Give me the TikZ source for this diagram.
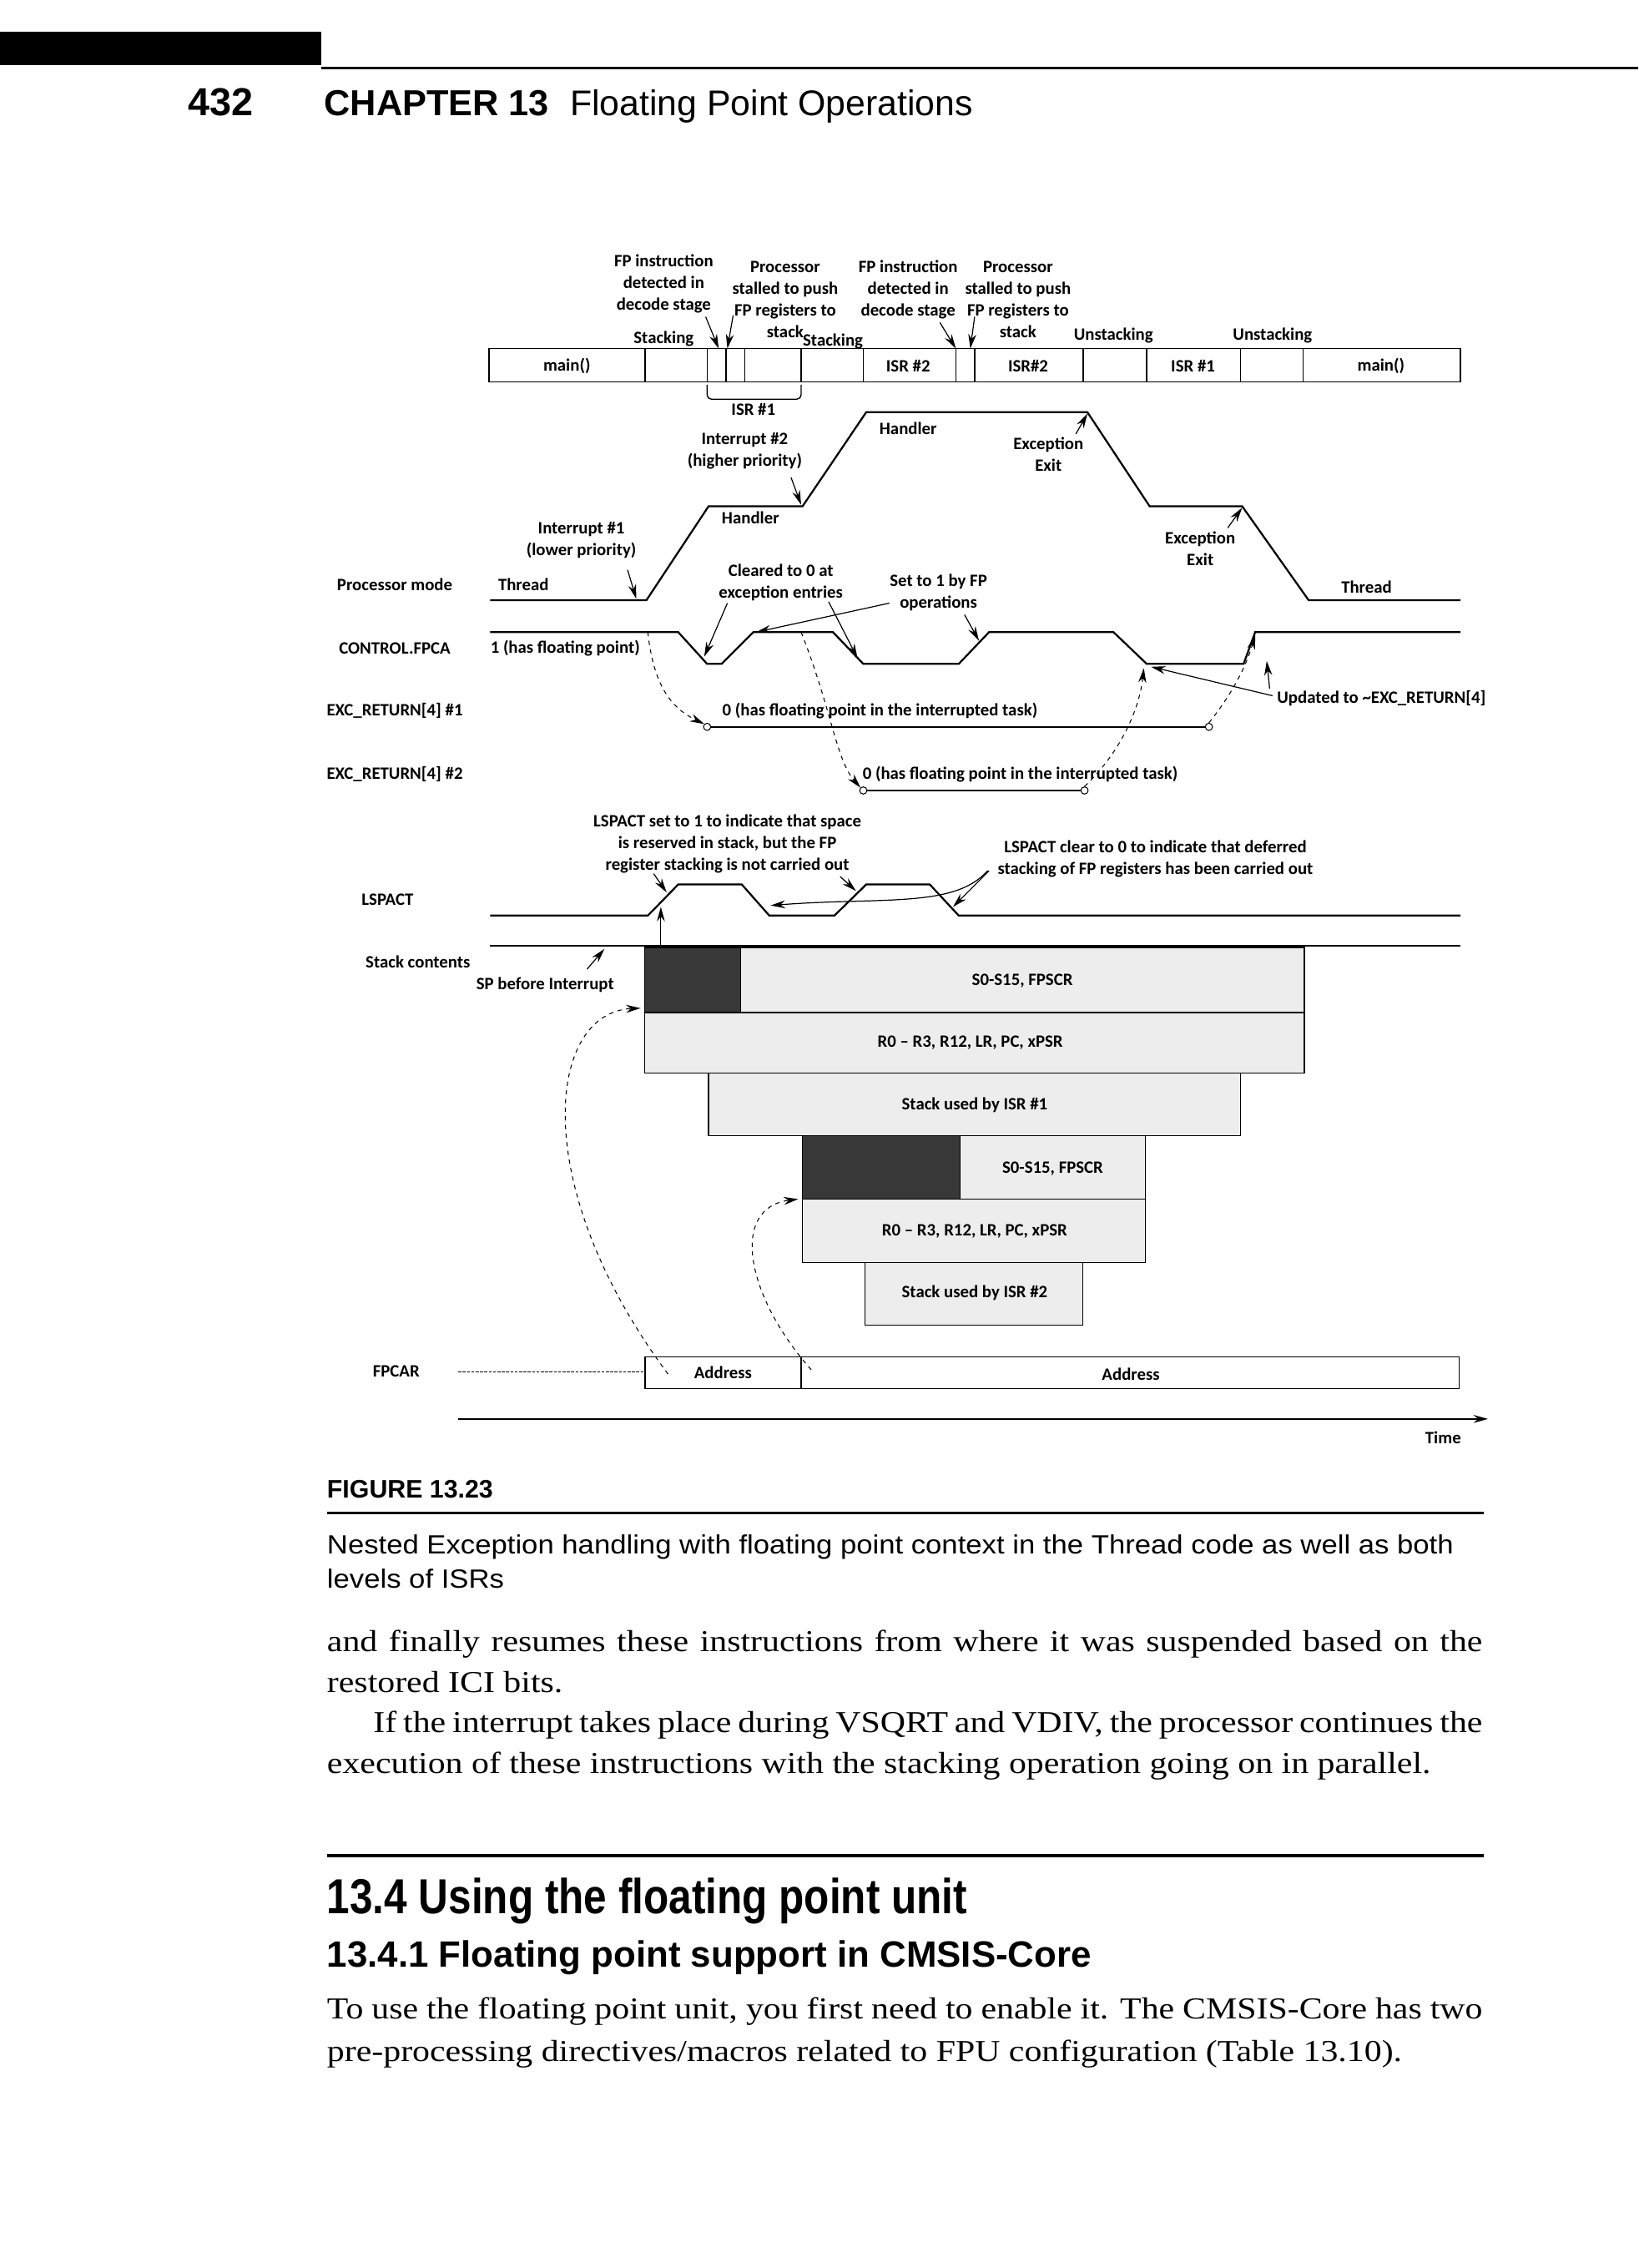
\documentclass[tikz,border=0pt]{standalone}
\usepackage{fontspec}
\setmainfont{Liberation Serif}
\newfontfamily\diagfont{Carlito}
\newfontfamily\sansfont{Liberation Sans}
\newfontfamily\condfont[FakeStretch=0.84]{Liberation Sans}
\newfontfamily\widesans[FakeStretch=1.1]{Liberation Sans}
\newfontfamily\bodyfont[FakeStretch=1.15]{Liberation Serif}
\usetikzlibrary{arrows.meta}
\begin{document}
\begin{tikzpicture}[x=1pt, y=-1pt, >={Stealth[length=10pt,width=5.5pt]},
    lbl/.style={font=\diagfont\bfseries\fontsize{12}{15}\selectfont, align=center, inner sep=0pt},
    sig/.style={line width=1.3pt},
    ptr/.style={->, line width=0.7pt},
    dsh/.style={->, dashed, line width=0.6pt},
    blk/.style={draw, line width=0.7pt, fill=gray!14},
    dark/.style={draw, line width=0.7pt, fill=black!78},
    ring/.style={draw, circle, inner sep=0pt, minimum size=5pt, fill=white, line width=0.6pt},
    body/.style={anchor=base west, inner sep=0pt, font=\bodyfont\fontsize{21}{28}\selectfont}]

        \useasboundingbox (0,0) rectangle (1133,1568);

        % --- Page header ---
        \fill (0,22) rectangle (222,45);
        \draw[line width=2pt] (222,47) -- (1133,47);
        \node[anchor=base west, inner sep=0pt, font=\sansfont\bfseries\fontsize{27}{30}\selectfont] (pgno) at (130,80) {432};
        \node[anchor=base west, inner sep=0pt, font=\sansfont\bfseries\fontsize{25}{30}\selectfont] (chap) at (224,80) {CHAPTER 13};
        \node[anchor=base west, inner sep=0pt, font=\sansfont\fontsize{24.7}{30}\selectfont] (chtitle) at (394,80) {Floating Point Operations};

        % --- Labels above the task row ---
        \node[lbl] (fpdA) at (459,196) {FP instruction\\detected in\\decode stage};
        \node[lbl] (stA) at (543,207) {Processor\\stalled to push\\FP registers to\\stack};
        \node[lbl] (fpdB) at (628,200.5) {FP instruction\\detected in\\decode stage};
        \node[lbl] (stB) at (704,207) {Processor\\stalled to push\\FP registers to\\stack};
        \node[lbl] (stkA) at (459,234) {Stacking};
        \node[lbl] (stkB) at (576,236) {Stacking};
        \node[lbl] (unA) at (770,232) {Unstacking};
        \node[lbl] (unB) at (880,232) {Unstacking};

        % --- Task row ---
        \draw[line width=1pt] (338,241) rectangle (1010,264);
        \foreach \cx in {446,489,502,515,554,597,661,674,749,793,858,901}
            \draw[line width=0.8pt] (\cx,241) -- (\cx,264);
        \node[lbl] (mainA) at (392,253) {main()};
        \node[lbl] (isrA) at (628,253) {ISR \#2};
        \node[lbl] (isrB) at (711,253) {ISR\#2};
        \node[lbl] (isrC) at (825,253) {ISR \#1};
        \node[lbl] (mainB) at (955,253) {main()};
        \draw[line width=0.8pt, rounded corners=3pt] (489,266) -- (489,276) -- (554,276) -- (554,266);
        \node[lbl] (isrOne) at (521,283) {ISR \#1};

        \coordinate (dcA) at (488,219); \coordinate (dcAt) at (497,241);
        \coordinate (psA) at (507,218); \coordinate (psAt) at (503,241);
        \coordinate (dcB) at (650,223); \coordinate (dcBt) at (661,241);
        \coordinate (psB) at (674,219); \coordinate (psBt) at (671,241);
        \draw[ptr] (dcA) -- (dcAt);
        \draw[ptr] (psA) -- (psAt);
        \draw[ptr] (dcB) -- (dcBt);
        \draw[ptr] (psB) -- (psBt);

        % --- Processor mode ---
        \draw[sig] (339,415) -- (447,415) -- (490,350) -- (555,350) -- (599,285) -- (752,285)
            -- (795,350) -- (859,350) -- (905,415) -- (1010,415);
        \node[lbl] (pmode) at (273,404) {Processor mode};
        \node[lbl] (thrA) at (362,404) {Thread};
        \node[lbl] (intOne) at (402,373.5) {Interrupt \#1\\(lower priority)};
        \node[lbl] (hdlA) at (519,358) {Handler};
        \node[lbl] (intTwo) at (515,312) {Interrupt \#2\\(higher priority)};
        \node[lbl] (hdlB) at (628,296) {Handler};
        \node[lbl] (exA) at (725,314) {Exception\\Exit};
        \node[lbl] (exB) at (830,379.5) {Exception\\Exit};
        \node[lbl] (thrB) at (945,406) {Thread};

        \coordinate (i1) at (434,394); \coordinate (i1t) at (440,414);
        \coordinate (i2) at (547,330); \coordinate (i2t) at (554,349);
        \coordinate (xa) at (744,300); \coordinate (xat) at (752,286);
        \coordinate (xb) at (849,365); \coordinate (xbt) at (859,351);
        \draw[ptr] (i1) -- (i1t);
        \draw[ptr] (i2) -- (i2t);
        \draw[ptr] (xa) -- (xat);
        \draw[ptr] (xb) -- (xbt);

        % --- CONTROL.FPCA ---
        \draw[sig] (339,437) -- (469,437) -- (489,459) -- (499,459) -- (521,437) -- (576,437)
            -- (597,459) -- (663,459) -- (684,437) -- (770,437) -- (793,459) -- (860,459)
            -- (868,437) -- (1010,437);
        \node[lbl] (fpca) at (273,448) {CONTROL.FPCA};
        \node[lbl, anchor=west] (fpOne) at (339,448) {1 (has floating point)};
        \node[lbl] (clr) at (540,402.5) {Cleared to 0 at\\exception entries};
        \node[lbl] (setOne) at (649,409.5) {Set to 1 by FP\\operations};

        \coordinate (cA) at (503,417); \coordinate (cAt) at (487,454);
        \coordinate (cB) at (573,416); \coordinate (cBt) at (593,455);
        \coordinate (sA) at (615,417); \coordinate (sAt) at (523,437);
        \coordinate (sB) at (667,425); \coordinate (sBt) at (677,443);
        \draw[ptr] (cA) -- (cAt);
        \draw[ptr] (cB) -- (cBt);
        \draw[ptr] (sA) -- (sAt);
        \draw[ptr] (sB) -- (sBt);

        % --- EXC_RETURN[4] ---
        \node[lbl] (erA) at (273,491.5) {EXC\_RETURN[4] \#1};
        \node[lbl] (erB) at (273,535) {EXC\_RETURN[4] \#2};
        \node[ring] (eA0) at (489,502.5) {};
        \node[ring] (eA1) at (836,502.5) {};
        \node[ring] (eB0) at (597,546.5) {};
        \node[ring] (eB1) at (750,546.5) {};
        \draw[sig] (eA0) -- (eA1);
        \draw[sig] (eB0) -- (eB1);
        \node[lbl] (zA) at (608.5,491.5) {0 (has floating point in the interrupted task)};
        \node[lbl] (zB) at (705.5,535) {0 (has floating point in the interrupted task)};
        \node[lbl, anchor=west] (upd) at (883,483) {Updated to \textasciitilde EXC\_RETURN[4]};

        \coordinate (hiA) at (448,437); \coordinate (hiB) at (554,437);
        \coordinate (riseA) at (868,439); \coordinate (lowB) at (791,462);
        \draw[dsh] (hiA) .. controls (452,475) and (465,490) .. (eA0.north west);
        \draw[dsh] (hiB) .. controls (575,490) and (578,525) .. (eB0.north west);
        \draw[dsh] (eA1.north) .. controls (852,480) and (862,460) .. (riseA);
        \draw[dsh] (eB1.north) .. controls (775,520) and (788,490) .. (lowB);

        \coordinate (uA) at (880,481); \coordinate (uAt) at (796,461);
        \coordinate (uB) at (878,476); \coordinate (uBt) at (876,457);
        \draw[ptr] (uA) -- (uAt);
        \draw[ptr] (uB) -- (uBt);

        % --- LSPACT ---
        \draw[sig] (339,633) -- (448,633) -- (469,611.5) -- (513,611.5) -- (532,633) -- (577,633)
            -- (599,611.5) -- (643,611.5) -- (663,633) -- (1010,633);
        \node[lbl] (lsp) at (268,622) {LSPACT};
        \node[lbl] (lspA) at (503,583.5) {LSPACT set to 1 to indicate that space\\is reserved in stack, but the FP\\register stacking is not carried out};
        \node[lbl] (lspB) at (799,594) {LSPACT clear to 0 to indicate that deferred\\stacking of FP registers has been carried out};

        \coordinate (lA) at (452,604); \coordinate (lAt) at (461,617);
        \coordinate (lB) at (581,606); \coordinate (lBt) at (592,616);
        \coordinate (lC) at (684,602); \coordinate (lCt) at (659,627);
        \coordinate (lD) at (683,602); \coordinate (lDt) at (533,626);
        \draw[ptr] (lA) -- (lAt);
        \draw[ptr] (lB) -- (lBt);
        \draw[ptr] (lC) -- (lCt);
        \draw[ptr] (lD) .. controls (660,628) and (610,620) .. (lDt);

        % --- Stack contents ---
        \draw[sig] (339,654) -- (1010,654);
        \node[lbl] (stk) at (289,665) {Stack contents};
        \node[lbl] (spb) at (377,681) {SP before Interrupt};
        \coordinate (sp) at (406,670); \coordinate (spt) at (418,656);
        \draw[ptr] (sp) -- (spt);
        \coordinate (vl) at (457,654); \coordinate (vlt) at (457,627);
        \draw[ptr] (vl) -- (vlt);

        \draw[blk] (446,655) rectangle (902,700);
        \draw[dark] (446,655) rectangle (512,700);
        \draw[blk] (446,700) rectangle (902,742);
        \draw[blk] (490,742) rectangle (858,785);
        \draw[blk] (555,785) rectangle (792,829);
        \draw[dark] (555,785) rectangle (664,829);
        \draw[blk] (555,829) rectangle (792,873);
        \draw[blk] (598,873) rectangle (749,916);
        \node[lbl] (fpsA) at (707,678) {S0-S15, FPSCR};
        \node[lbl] (regA) at (671,721) {R0 – R3, R12, LR, PC, xPSR};
        \node[lbl] (useA) at (674,764) {Stack used by ISR \#1};
        \node[lbl] (fpsB) at (728,808) {S0-S15, FPSCR};
        \node[lbl] (regB) at (674,851) {R0 – R3, R12, LR, PC, xPSR};
        \node[lbl] (useB) at (674,894) {Stack used by ISR \#2};

        % --- FPCAR ---
        \node[lbl] (fpcar) at (274,948) {FPCAR};
        \coordinate (fl) at (317,948.5); \coordinate (fr) at (446,948.5);
        \draw[dash pattern=on 2pt off 1pt, line width=0.7pt] (fl) -- (fr);
        \draw[line width=1pt] (446,938) rectangle (554,960);
        \draw[line width=1pt] (554,938) rectangle (1009,960);
        \node[lbl] (addrA) at (500,949) {Address};
        \node[lbl] (addrB) at (782,950) {Address};

        \coordinate (fA) at (462,950); \coordinate (fAt) at (443,697);
        \coordinate (fB) at (561,947); \coordinate (fBt) at (552,829);
        \draw[dsh] (fA) .. controls (365,820) and (378,700) .. (fAt);
        \draw[dsh] (fB) .. controls (515,895) and (505,835) .. (fBt);

        % --- Time axis ---
        \coordinate (t0) at (317,981); \coordinate (t1) at (1029,981);
        \draw[->, line width=1.2pt] (t0) -- (t1);
        \node[lbl] (time) at (998,994) {Time};

        % --- Caption ---
        \node[anchor=base west, inner sep=0pt, font=\sansfont\bfseries\fontsize{17.5}{20}\selectfont] (fig) at (226,1035.5) {FIGURE 13.23};
        \draw[line width=1.6pt] (226,1046) -- (1026,1046);
        \node[anchor=base west, inner sep=0pt, font=\widesans\fontsize{18.2}{24}\selectfont] (capA) at (226,1074) {Nested Exception handling with floating point context in the Thread code as well as both};
        \node[anchor=base west, inner sep=0pt, font=\widesans\fontsize{18.2}{24}\selectfont] (capB) at (226,1098) {levels of ISRs};

        % --- Body text ---
        \node[body] (pA) at (226,1142) {\makebox[799pt][s]{and finally resumes these instructions from where it was suspended based on the}};
        \node[body] (pB) at (226,1170) {restored ICI bits.};
        \node[body] (pC) at (258,1198) {\makebox[767pt][s]{If the interrupt takes place during VSQRT and VDIV, the processor continues the}};
        \node[body] (pD) at (226,1226) {execution of these instructions with the stacking operation going on in parallel.};

        \draw[line width=2.3pt] (226,1283) -- (1026,1283);
        \node[anchor=base west, inner sep=0pt, font=\condfont\bfseries\fontsize{34}{40}\selectfont] (secA) at (226,1323) {13.4 Using the floating point unit};
        \node[anchor=base west, inner sep=0pt, font=\sansfont\bfseries\fontsize{25.3}{30}\selectfont] (secB) at (226,1360) {13.4.1 Floating point support in CMSIS-Core};
        \node[body] (pE) at (226,1396) {\makebox[799pt][s]{To use the floating point unit, you first need to enable it. The CMSIS-Core has two}};
        \node[body] (pF) at (226,1425) {pre-processing directives/macros related to FPU configuration (Table 13.10).};

    \end{tikzpicture}
\end{document}
